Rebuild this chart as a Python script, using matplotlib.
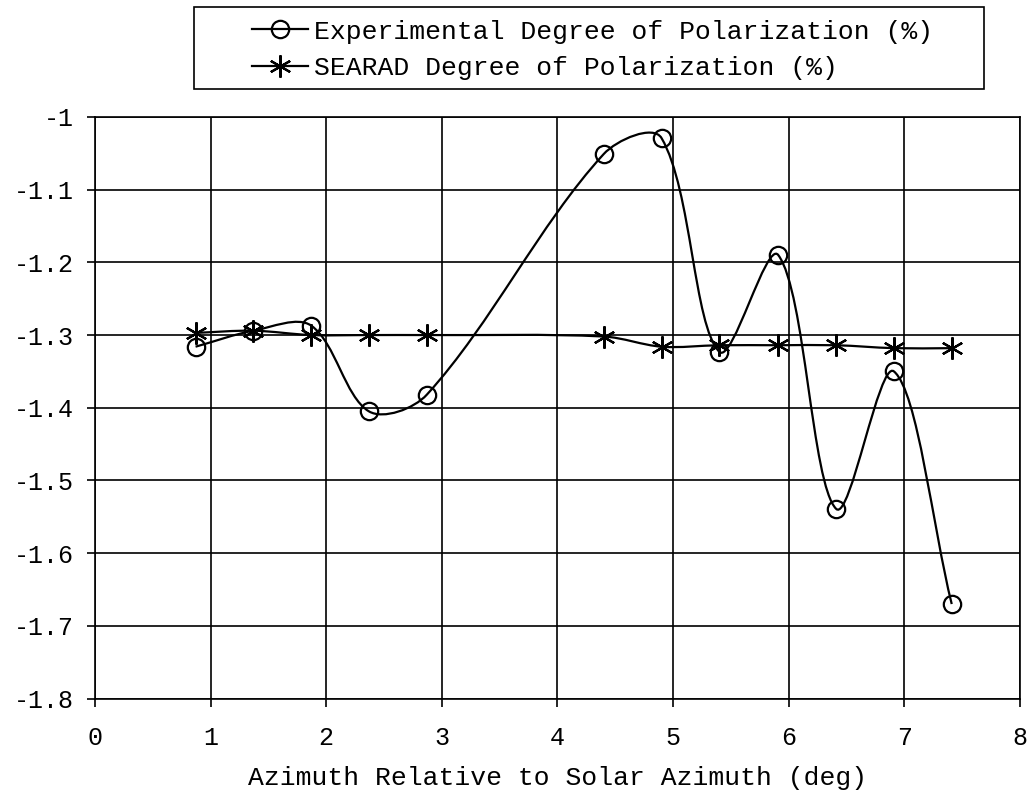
import matplotlib
matplotlib.use("Agg")
import matplotlib.pyplot as plt
from matplotlib.path import Path
from matplotlib.patches import PathPatch, Rectangle
from matplotlib.lines import Line2D

# ---- data ----
x_exp = [0.87, 1.37, 1.87, 2.37, 2.87, 4.40, 4.90, 5.40, 5.91, 6.41, 6.91, 7.41]
y_exp = [-1.316, -1.294, -1.287, -1.405, -1.382, -1.051, -1.029, -1.323, -1.190, -1.539, -1.350, -1.670]
x_sea = [0.87, 1.37, 1.87, 2.37, 2.87, 4.40, 4.90, 5.40, 5.91, 6.41, 6.91, 7.41]
y_sea = [-1.297, -1.294, -1.300, -1.300, -1.300, -1.302, -1.316, -1.314, -1.314, -1.314, -1.318, -1.318]
x_ticks = [0, 1, 2, 3, 4, 5, 6, 7, 8]
y_ticks = [-1.8, -1.7, -1.6, -1.5, -1.4, -1.3, -1.2, -1.1, -1.0]
y_tick_labels = ["-1.8", "-1.7", "-1.6", "-1.5", "-1.4", "-1.3", "-1.2", "-1.1", "-1"]
label_exp = "Experimental Degree of Polarization (%)"
label_sea = "SEARAD Degree of Polarization (%)"
x_label = "Azimuth Relative to Solar Azimuth (deg)"

FONT = "Liberation Mono"
plt.rcParams['font.family'] = [FONT, 'DejaVu Sans']


def smooth_path(ax, xs, ys):
    """Smoothed line (cubic Bezier through data points, chord-length weighted tangents)."""
    pts = [ax.transData.transform((x, y)) for x, y in zip(xs, ys)]
    n = len(xs)

    def dist(i, j):
        return ((pts[i][0] - pts[j][0]) ** 2 + (pts[i][1] - pts[j][1]) ** 2) ** 0.5

    verts = [(xs[0], ys[0])]
    codes = [Path.MOVETO]
    for i in range(n - 1):
        if i > 0:
            f = dist(i, i + 1) / (dist(i - 1, i) + dist(i, i + 1)) / 3.0
            c1 = (xs[i] + (xs[i + 1] - xs[i - 1]) * f, ys[i] + (ys[i + 1] - ys[i - 1]) * f)
        else:
            c1 = (xs[i] + (xs[i + 1] - xs[i]) / 3.0, ys[i] + (ys[i + 1] - ys[i]) / 3.0)
        if i + 2 < n:
            f = dist(i, i + 1) / (dist(i, i + 1) + dist(i + 1, i + 2)) / 3.0
            c2 = (xs[i + 1] - (xs[i + 2] - xs[i]) * f, ys[i + 1] - (ys[i + 2] - ys[i]) * f)
        else:
            c2 = (xs[i + 1] - (xs[i + 1] - xs[i]) / 3.0, ys[i + 1] - (ys[i + 1] - ys[i]) / 3.0)
        verts += [c1, c2, (xs[i + 1], ys[i + 1])]
        codes += [Path.CURVE4, Path.CURVE4, Path.CURVE4]
    return Path(verts, codes)


fig = plt.figure(figsize=(10.29, 7.92), dpi=100)
ax = fig.add_axes([0.0923, 0.1180, 0.8989, 0.7343])
ax.set_xlim(0, 8)
ax.set_ylim(-1.8, -1.0)

lw = 1.6
ax.add_patch(PathPatch(smooth_path(ax, x_sea, y_sea), facecolor='none', edgecolor='black', lw=lw, zorder=3))
ax.add_patch(PathPatch(smooth_path(ax, x_exp, y_exp), facecolor='none', edgecolor='black', lw=lw, zorder=3))

star = (6, 2, 0)
ax.plot(x_sea, y_sea, linestyle='none', marker=star, markersize=16, markeredgewidth=1.6,
        color='black', zorder=4)
ax.plot(x_exp, y_exp, linestyle='none', marker='o', markersize=12.5, markeredgewidth=1.6,
        markerfacecolor='none', markeredgecolor='black', zorder=5)

ax.set_xticks(x_ticks)
ax.set_yticks(y_ticks)
ax.set_yticklabels(y_tick_labels)
ax.grid(True, color='black', linewidth=1.2)
ax.set_axisbelow(True)
for s in ax.spines.values():
    s.set_color('black')
    s.set_linewidth(1.2)
ax.tick_params(axis='both', direction='out', length=6, width=1.2, color='black',
               labelsize=18)
ax.tick_params(axis='x', pad=14)
ax.tick_params(axis='y', pad=9)
for lab in ax.get_xticklabels() + ax.get_yticklabels():
    lab.set_fontfamily(FONT)
ax.set_xlabel(x_label, fontsize=19, fontfamily=FONT, labelpad=11)

# legend
h_exp = Line2D([], [], color='black', lw=lw, marker='o', markersize=12.5, markeredgewidth=1.6,
               markerfacecolor='none')
h_sea = Line2D([], [], color='black', lw=lw, marker=star, markersize=16, markeredgewidth=1.6)
fig.legend([h_exp, h_sea], [label_exp, label_sea], loc='center',
           bbox_to_anchor=(0.576, 0.937), frameon=False,
           prop={'family': FONT, 'size': 19}, handlelength=2.1, handletextpad=0.25,
           labelspacing=0.48, borderpad=0.0, markerscale=1.0)
fig.patches.append(Rectangle((0.1885, 0.8876), 0.7678, 0.1035, transform=fig.transFigure,
                             fill=False, edgecolor='black', linewidth=1.2))

fig.savefig("out.png", dpi=100, facecolor='white')
